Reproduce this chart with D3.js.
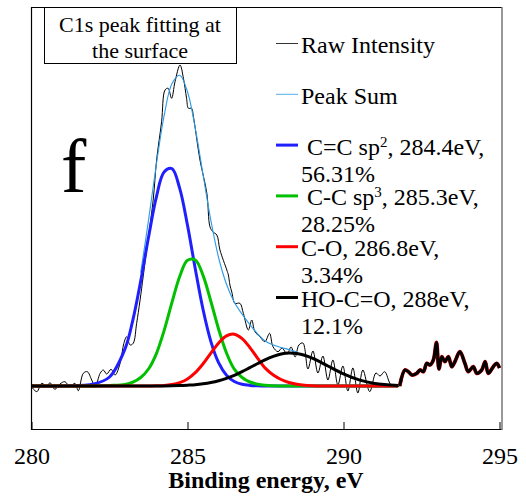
<!DOCTYPE html>
<html>
<head>
<meta charset="utf-8">
<script src="https://cdn.jsdelivr.net/npm/d3@7"></script>
<style>
  body { margin: 0; background: #fff; }
  text { font-family: "Liberation Serif", "Times New Roman", serif; fill: #000; }
</style>
</head>
<body>
<div id="wrapper"></div>
<script>
// DATA
const energyGrid = [280, 281, 282, 282.5, 283, 283.25, 283.5, 283.75, 284, 284.25, 284.5, 284.75, 285, 285.25,
  285.5, 285.75, 286, 286.25, 286.5, 286.75, 287, 287.25, 287.5, 287.75, 288, 288.25, 288.5, 288.75, 289,
  289.25, 289.5, 290, 290.5, 291, 291.75];

const sp2Values = [0, 0, 2, 9, 37.4, 66.2, 104.9, 148.7, 188.6, 214.1, 217.4, 197.6, 160.7, 117.0, 76.2, 44.4,
  23.1, 10.8, 4.5, 1.7, 0.6, 0.2, 0, 0, 0, 0, 0, 0, 0, 0, 0, 0, 0, 0, 0];

const sp3Values = [0, 0, 0, 0.5, 1.5, 3.8, 8.5, 17, 32.2, 55.4, 83.3, 109.5, 125.7, 126.0, 110.4, 84.5, 56.5,
  33.0, 16.8, 8.5, 4, 1.8, 0.8, 0.3, 0, 0, 0, 0, 0, 0, 0, 0, 0, 0, 0];

const coValues = [0, 0, 0, 0, 0, 0, 0, 0, 0.2, 0.5, 1.4, 3.3, 7.0, 13.3, 22.2, 32.9, 43.1, 50.2, 51.8, 47.4,
  38.4, 27.6, 17.6, 11, 6.5, 3.5, 1.8, 0.8, 0.3, 0, 0, 0, 0, 0, 0];

const hocoValues = [0, 0, 0, 0, 0, 0, 0, 0, 0.1, 0.1, 0.2, 0.4, 0.8, 1.3, 2.2, 3.5, 5.3, 7.7, 10.7, 14.3, 18.4,
  22.5, 26.4, 29.7, 32.0, 33.0, 32.5, 30.8, 27.8, 24.1, 20.0, 12.1, 6.1, 2.6, 0.5];

const sumEnergy = [283.5, 283.75, 284, 284.25, 284.5, 284.75, 285, 285.25, 285.5, 285.75, 286, 286.25, 286.5,
  286.75, 287, 287.25, 287.5, 287.75, 288, 288.25, 288.5];
const sumValues = [113.4, 165.7, 221.1, 270.1, 302.3, 310.8, 294.2, 257.6, 211.0, 165.3, 128.0, 101.7, 83.8,
  71.9, 61.4, 52.1, 44.8, 41.0, 38.5, 36.5, 34.3];

const rawEnergy = [280.0, 280.17, 280.33, 280.49, 280.59, 280.75, 280.91, 281.07, 281.23, 281.39, 281.50, 281.66,
  281.79, 281.93, 282.04, 282.20, 282.30, 282.41, 282.55, 282.68, 282.84, 282.96, 283.05, 283.16, 283.26, 283.37,
  283.48, 283.69, 283.90, 284.01, 284.17, 284.28, 284.38, 284.49, 284.60, 284.76, 284.87, 284.97, 285.03, 285.13,
  285.19, 285.40, 285.62, 285.72, 285.81, 285.94, 286.04, 286.26, 286.31, 286.36, 286.42, 286.52, 286.68, 286.79,
  286.95, 287.06, 287.16, 287.32, 287.48, 287.63, 287.74, 287.90, 288.03, 288.19, 288.32, 288.45, 288.57, 288.70,
  288.86, 289.02, 289.18, 289.34, 289.50, 289.66, 289.82, 289.98, 290.14, 290.30, 290.46, 290.62, 290.84, 291.04,
  291.17, 291.32, 291.53, 291.80, 291.97, 292.08, 292.19, 292.35, 292.45, 292.56, 292.67, 292.77, 292.88, 292.98,
  293.06, 293.15, 293.25, 293.36, 293.47, 293.57, 293.73, 293.89, 294.00, 294.16, 294.27, 294.43, 294.54, 294.64,
  294.80, 294.91, 295.00];

const rawIntensity = [-0.7, -5.7, 2.7, -0.7, 3.3, -3.3, 2, 4.3, -0.7, 2.7, -4.7, 12.7,
  14.3, 6, -0.7, 12.7, 16, 12, 16.7, 11, 22.7, 42.7, 49.3, 41, 42.7, 62.7,
  86, 136, 186, 226, 264.3, 296, 297.7, 287.7, 304.3, 321, 307.7, 287.7, 277.7, 277.7,
  269.3, 226, 192.7, 159.3, 154.3, 151, 136, 116, 111, 101, 94, 82.7, 82.7, 72.7,
  56, 66, 54.3, 49.3, 44.3, 52.7, 39.3, 34.3, 38, 32, 39, 29, 41, 43,
  17, 35, 13, 30, 6, 26, 1, 20, -5, 18, -7, 16, -5.7, 13,
  10, 14.3, 1, 0, 16, 14.3, 11, 12.7, 16, 14.3, 22.7, 21, 26, 43.5,
  17, 29.3, 24.3, 29.3, 19.3, 24.3, 34.3, 22.7, 14.3, 19.3, 12.7, 16, 24.3, 12.7,
  19.3, 22.7, 18];

const fitEnd = 291.8;
const xTicks = [280, 285, 290, 295];
const titleLines = [`C1s peak fitting at`, `the surface`];
const panelLetter = `f`;
const xAxisTitle = `Binding energy, eV`;

const legendFirstLines = [
  [`Raw Intensity`],
  [`Peak Sum`],
  [` C=C sp`, `2`, `, 284.4eV,`],
  [` C-C sp`, `3`, `, 285.3eV,`],
  [`C-O, 286.8eV,`],
  [`HO-C=O, 288eV,`]
];
const legendSecondLines = [``, ``, `56.31%`, `28.25%`, `3.34%`, `12.1%`];
const legendColors = [`#000`, `#2a9be8`, `#2020ff`, `#00c000`, `#ff0000`, `#000`];
const legendWidths = [1, 1, 3, 3, 3, 3];

// GRAPH
const width = 526;
const height = 502;
const plotLeft = 31.5;
const plotRight = 499.5;
const plotTop = 7;
const plotBottom = 429;

const svg = d3.select(`#wrapper`)
  .append(`svg`)
  .attr(`width`, width)
  .attr(`height`, height);

// SCALES
const xScale = d3.scaleLinear()
  .domain([280, 295])
  .range([plotLeft, plotRight]);

const yScale = d3.scaleLinear()
  .domain([-43, 379])
  .range([plotBottom, plotTop]);

svg.append(`clipPath`)
  .attr(`id`, `plot-clip`)
  .append(`rect`)
  .attr(`x`, 31)
  .attr(`y`, plotTop)
  .attr(`width`, 471)
  .attr(`height`, plotBottom - plotTop);

const plot = svg.append(`g`).attr(`clip-path`, `url(#plot-clip)`);

const toPoints = (xs, ys) => xs.map((e, i) => [e, ys[i]]);

const line = d3.line()
  .x(d => xScale(d[0]))
  .y(d => yScale(d[1]))
  .curve(d3.curveCatmullRom);

const drawSeries = (points, color, strokeWidth) => plot.append(`path`)
  .datum(points)
  .attr(`fill`, `none`)
  .attr(`stroke`, color)
  .attr(`stroke-width`, strokeWidth)
  .attr(`stroke-linejoin`, `round`)
  .attr(`d`, line);

const rawPoints = toPoints(rawEnergy, rawIntensity);

drawSeries(rawPoints, `#000`, 1);
drawSeries(toPoints(sumEnergy, sumValues), legendColors[1], 1.1);
drawSeries(toPoints(energyGrid, sp2Values), legendColors[2], 3);
drawSeries(toPoints(energyGrid, sp3Values), legendColors[3], 3);
drawSeries(toPoints(energyGrid, coValues), legendColors[4], 3);
drawSeries(toPoints(energyGrid, hocoValues), legendColors[5], 3);

// outside the fitted range the data is drawn heavy
const tailPoints = rawPoints.filter(d => d[0] >= fitEnd - 0.01);
drawSeries(tailPoints, `#d00`, 3.8);
drawSeries(tailPoints, `#000`, 3);

// FRAME
svg.append(`path`)
  .attr(`d`, `M502,7.5H31.5V429.5H502`)
  .attr(`fill`, `none`)
  .attr(`stroke`, `#000`)
  .attr(`stroke-width`, 1.2);

svg.append(`line`)
  .attr(`x1`, 502).attr(`x2`, 502)
  .attr(`y1`, 7).attr(`y2`, 430)
  .attr(`stroke`, `#777`)
  .attr(`stroke-width`, 1.5);

// AXIS
const xAxis = d3.axisBottom(xScale)
  .tickValues(xTicks)
  .tickSizeInner(-7)
  .tickSizeOuter(0)
  .tickPadding(18)
  .tickFormat(d3.format(`d`));

svg.append(`g`)
  .attr(`transform`, `translate(0, ${plotBottom})`)
  .call(xAxis)
  .call(g => g.select(`.domain`).remove())
  .call(g => g.attr(`font-family`, null).attr(`font-size`, null))
  .call(g => g.selectAll(`.tick line`).attr(`stroke`, `#000`))
  .call(g => g.selectAll(`.tick text`).style(`font-size`, `24px`));

svg.append(`text`)
  .attr(`x`, 266)
  .attr(`y`, 488)
  .attr(`text-anchor`, `middle`)
  .style(`font-size`, `24px`)
  .style(`font-weight`, `bold`)
  .text(xAxisTitle);

// TITLE BOX
svg.append(`rect`)
  .attr(`x`, 44.5)
  .attr(`y`, 7.5)
  .attr(`width`, 192)
  .attr(`height`, 56)
  .attr(`fill`, `#fff`)
  .attr(`stroke`, `#000`);

svg.selectAll(`.title-line`)
  .data(titleLines)
  .enter()
  .append(`text`)
  .attr(`class`, `title-line`)
  .attr(`x`, 140)
  .attr(`y`, (d, i) => 32 + i * 26)
  .attr(`text-anchor`, `middle`)
  .style(`font-size`, `22px`)
  .text(d => d);

svg.append(`text`)
  .attr(`x`, 61)
  .attr(`y`, 192)
  .style(`font-size`, `76px`)
  .text(panelLetter);

// LEGEND
const legend = svg.selectAll(`.legend-item`)
  .data(legendFirstLines)
  .enter()
  .append(`g`)
  .attr(`class`, `legend-item`)
  .attr(`transform`, (d, i) => `translate(0, ${53 + i * 50.8})`);

legend.append(`line`)
  .attr(`x1`, 276)
  .attr(`x2`, 298)
  .attr(`y1`, -9.5)
  .attr(`y2`, -9.5)
  .attr(`stroke`, (d, i) => legendColors[i])
  .attr(`stroke-width`, (d, i) => legendWidths[i])
  .attr(`opacity`, (d, i) => i < 2 ? 0.8 : 1);

const firstText = legend.append(`text`)
  .attr(`x`, 301)
  .style(`font-size`, `24px`)
  .style(`white-space`, `pre`);

firstText.selectAll(`tspan`)
  .data(d => d)
  .enter()
  .append(`tspan`)
  .style(`font-size`, (d, i) => i % 2 === 1 ? `15px` : null)
  .attr(`baseline-shift`, (d, i) => i % 2 === 1 ? `super` : null)
  .text(d => d);

legend.append(`text`)
  .attr(`x`, 301)
  .attr(`y`, 27)
  .style(`font-size`, `24px`)
  .text((d, i) => legendSecondLines[i]);
</script>
</body>
</html>
